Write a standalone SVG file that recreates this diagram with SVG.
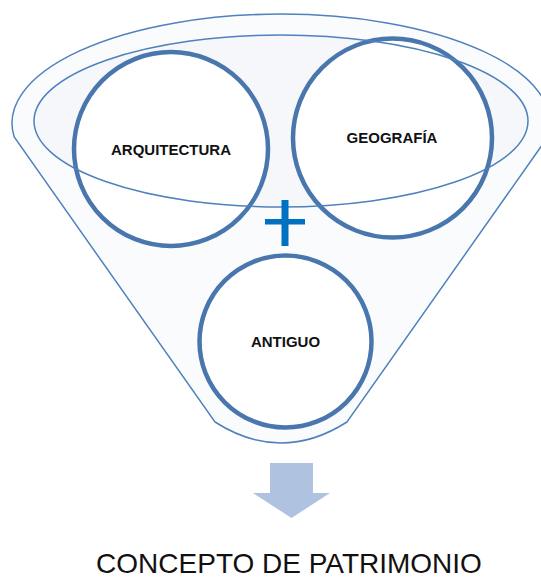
<svg xmlns="http://www.w3.org/2000/svg" width="541" height="578" viewBox="0 0 541 578">
  <style>
    .funnel { fill: #FAFBFD; stroke: #4F81BD; stroke-width: 1.5; }
    .rim { fill: #F5F7FB; }
    .rimline { fill: none; stroke: #4F81BD; stroke-width: 1.5; }
    .node circle { fill: #FFFFFF; stroke: #4A76AE; stroke-width: 4.5; }
    .label { font-family: "Liberation Sans", Arial, sans-serif; font-weight: bold; font-size: 15px; fill: #111111; text-anchor: middle; }
    .result { font-family: "Liberation Sans", Arial, sans-serif; font-size: 28px; fill: #111111; text-anchor: middle; }
  </style>
  <rect width="541" height="578" fill="#FFFFFF"/>
  <g id="funnel">
    <path class="funnel" d="M 14.2 137 A 269 109 0 1 1 547.8 137 L 347 422 Q 281 464 215 422 Z"/>
    <ellipse class="rim" cx="281" cy="121" rx="247" ry="86"/>
  </g>
  <g id="arquitectura" class="node">
    <circle cx="171" cy="149" r="97"/>
  </g>
  <g id="geografia" class="node">
    <circle cx="392.5" cy="138" r="99.5"/>
  </g>
  <g id="rim-outline">
    <ellipse class="rimline" cx="281" cy="121" rx="247" ry="86"/>
  </g>
  <g id="arquitectura-label">
    <text class="label" x="171" y="155">ARQUITECTURA</text>
  </g>
  <g id="geografia-label">
    <text class="label" x="392" y="143">GEOGRAFÍA</text>
  </g>
  <g id="antiguo" class="node">
    <circle cx="285.5" cy="341.5" r="86"/>
    <text class="label" x="285.5" y="347">ANTIGUO</text>
  </g>
  <g id="plus">
    <rect x="281.5" y="200" width="7" height="46" fill="#0070C0"/>
    <rect x="265" y="219" width="40" height="5.5" fill="#0070C0"/>
  </g>
  <g id="connectors">
    <path d="M 270 463 L 313 463 L 313 493 L 330 493 L 291.5 518 L 253 493 L 270 493 Z" fill="#AFC2DF"/>
  </g>
  <g id="result">
    <text class="result" x="289" y="573">CONCEPTO DE PATRIMONIO</text>
  </g>
</svg>
